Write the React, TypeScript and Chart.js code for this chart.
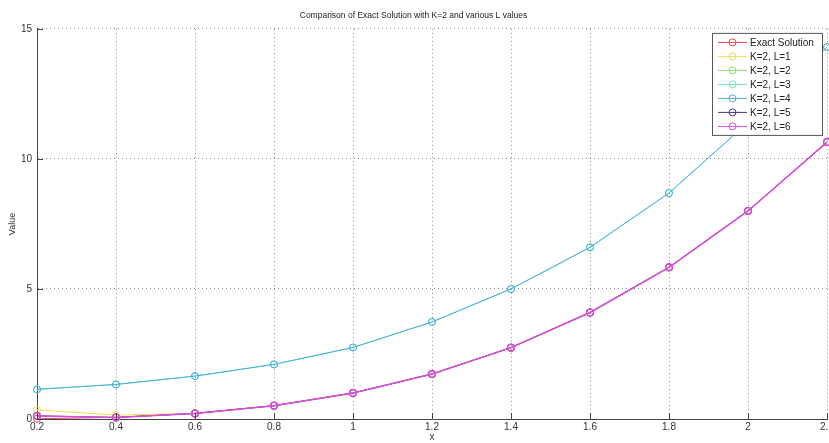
import React, { useEffect, useRef } from "react";
import { Chart, registerables } from "chart.js";

Chart.register(...registerables);

const xValues = [0.2, 0.4, 0.6, 0.8, 1.0, 1.2, 1.4, 1.6, 1.8, 2.0, 2.2];
const xTickLabels = ["0.2", "0.4", "0.6", "0.8", "1", "1.2", "1.4", "1.6", "1.8", "2", "2.2"];

const exactSolution = [0.008, 0.064, 0.216, 0.512, 1.0, 1.728, 2.744, 4.096, 5.832, 8.0, 10.648];
const kL1 = [0.35, 0.15, 0.216, 0.512, 1.0, 1.728, 2.744, 4.096, 5.832, 8.0, 10.648];
const kL2 = [0.12, 0.06, 0.216, 0.512, 1.0, 1.728, 2.744, 4.096, 5.832, 8.0, 10.648];
const kL3 = [1.14, 1.33, 1.65, 2.1, 2.75, 3.73, 5.0, 6.6, 8.69, 11.4, 14.3];
const kL4 = [1.14, 1.33, 1.65, 2.1, 2.75, 3.73, 5.0, 6.6, 8.69, 11.4, 14.3];
const kL5 = [0.12, 0.06, 0.216, 0.512, 1.0, 1.728, 2.744, 4.096, 5.832, 8.0, 10.648];
const kL6 = [0.12, 0.06, 0.216, 0.512, 1.0, 1.728, 2.744, 4.096, 5.832, 8.0, 10.648];

const seriesNames = [
  "Exact Solution",
  "K=2, L=1",
  "K=2, L=2",
  "K=2, L=3",
  "K=2, L=4",
  "K=2, L=5",
  "K=2, L=6",
];
const seriesValues = [exactSolution, kL1, kL2, kL3, kL4, kL5, kL6];
const seriesColors = [
  "#e5484d",
  "#f0dc4a",
  "#8fdc6a",
  "#6fe3c0",
  "#4aaedc",
  "#4a2c9a",
  "#dc4cdc",
];
const seriesWidths = [1, 1, 1, 1, 1, 1, 1.5];

const FONT = '"Liberation Sans", Arial, sans-serif';

const innerTicks = {
  id: "innerTicks",
  afterDatasetsDraw(chart: any) {
    const { ctx, chartArea, scales } = chart;
    ctx.save();
    ctx.strokeStyle = "#444";
    ctx.lineWidth = 1;
    ctx.beginPath();
    scales.x.ticks.forEach((t: any) => {
      const px = Math.round(scales.x.getPixelForValue(t.value)) + 0.5;
      ctx.moveTo(px, chartArea.bottom);
      ctx.lineTo(px, chartArea.bottom - 6);
    });
    scales.y.ticks.forEach((t: any) => {
      const py = Math.round(scales.y.getPixelForValue(t.value)) + 0.5;
      ctx.moveTo(chartArea.left, py);
      ctx.lineTo(chartArea.left + 6, py);
    });
    ctx.stroke();
    ctx.restore();
  },
};

const boxLegend = {
  id: "boxLegend",
  afterDraw(chart: any) {
    const { ctx, chartArea } = chart;
    const ds = chart.data.datasets;
    const rowH = 14;
    const boxW = 110;
    const boxH = 102;
    const x0 = chartArea.right - 115;
    const y0 = chartArea.top + 4;
    ctx.save();
    ctx.fillStyle = "#ffffff";
    ctx.fillRect(x0, y0, boxW, boxH);
    ctx.strokeStyle = "#555";
    ctx.lineWidth = 1;
    ctx.strokeRect(x0 + 0.5, y0 + 0.5, boxW, boxH);
    ctx.font = `10px ${FONT}`;
    ctx.textBaseline = "middle";
    ctx.textAlign = "left";
    ds.forEach((d: any, i: number) => {
      const y = y0 + 9 + i * rowH;
      ctx.strokeStyle = d.borderColor;
      ctx.lineWidth = 1;
      ctx.beginPath();
      ctx.moveTo(x0 + 6, y + 0.5);
      ctx.lineTo(x0 + 35, y + 0.5);
      ctx.stroke();
      ctx.beginPath();
      ctx.arc(x0 + 20.5, y + 0.5, 3.5, 0, Math.PI * 2);
      ctx.stroke();
      ctx.fillStyle = "#222";
      ctx.fillText(d.label, x0 + 38, y + 1);
    });
    ctx.restore();
  },
};

export default function App() {
  const ref = useRef<HTMLCanvasElement | null>(null);
  useEffect(() => {
    if (!ref.current) return;
    const datasets = seriesNames.map((name, i) => ({
      label: name,
      data: xValues.map((x, j) => ({ x, y: seriesValues[i][j] })),
      borderColor: seriesColors[i],
      backgroundColor: "rgba(0,0,0,0)",
      pointBackgroundColor: "rgba(0,0,0,0)",
      pointBorderColor: seriesColors[i],
      pointRadius: 3.5,
      pointBorderWidth: seriesWidths[i],
      borderWidth: seriesWidths[i],
      tension: 0,
      order: 6 - i,
      clip: 6,
    }));
    const chart = new Chart(ref.current, {
      type: "line",
      data: { datasets },
      plugins: [innerTicks, boxLegend],
      options: {
        animation: false,
        responsive: false,
        events: [],
        layout: { autoPadding: false, padding: { left: 0, right: 2, top: 0, bottom: 0 } },
        plugins: {
          legend: { display: false },
          tooltip: { enabled: false },
          title: {
            display: true,
            text: "Comparison of Exact Solution with K=2 and various L values",
            color: "#222",
            font: { family: FONT, size: 8.5, weight: "normal", lineHeight: 1.4 },
            padding: { top: 10, bottom: 7 },
          },
        },
        scales: {
          x: {
            type: "linear",
            min: 0.2,
            max: 2.2,
            afterBuildTicks(scale: any) {
              scale.ticks = xValues.map((v) => ({ value: v }));
            },
            afterFit(scale: any) {
              scale.height = 24;
              scale.paddingLeft = 0;
              scale.paddingRight = 0;
            },
            ticks: {
              autoSkip: false,
              maxRotation: 0,
              padding: 2,
              color: "#333",
              font: { family: FONT, size: 10 },
              callback: (_v: any, i: number) => xTickLabels[i],
            },
            grid: {
              color: "rgba(0,0,0,0.45)",
              lineWidth: 1,
              drawTicks: false,
            },
            border: { display: true, color: "#444", width: 1, dash: [1, 3] },
            title: {
              display: true,
              text: "x",
              color: "#333",
              font: { family: FONT, size: 10, lineHeight: 1.2 },
              padding: { top: 0, bottom: 0 },
            },
          },
          y: {
            type: "linear",
            min: 0,
            max: 15,
            ticks: {
              stepSize: 5,
              padding: 5,
              color: "#333",
              font: { family: FONT, size: 10 },
            },
            afterFit(scale: any) {
              scale.width = 37;
              scale.paddingTop = 0;
              scale.paddingBottom = 0;
            },
            grid: {
              color: "rgba(0,0,0,0.45)",
              lineWidth: 1,
              drawTicks: false,
            },
            border: { display: true, color: "#444", width: 1, dash: [1, 3] },
            title: {
              display: true,
              text: "Value",
              color: "#333",
              font: { family: FONT, size: 9, lineHeight: 1.2 },
              padding: { top: 7, bottom: 0 },
            },
          },
        },
      } as any,
    });
    return () => chart.destroy();
  }, []);
  return (
    <div style={{ position: "absolute", left: 0, top: 0, width: 829, height: 443, background: "#fff" }}>
      <canvas ref={ref} width={829} height={443} style={{ width: 829, height: 443 }} />
    </div>
  );
}
